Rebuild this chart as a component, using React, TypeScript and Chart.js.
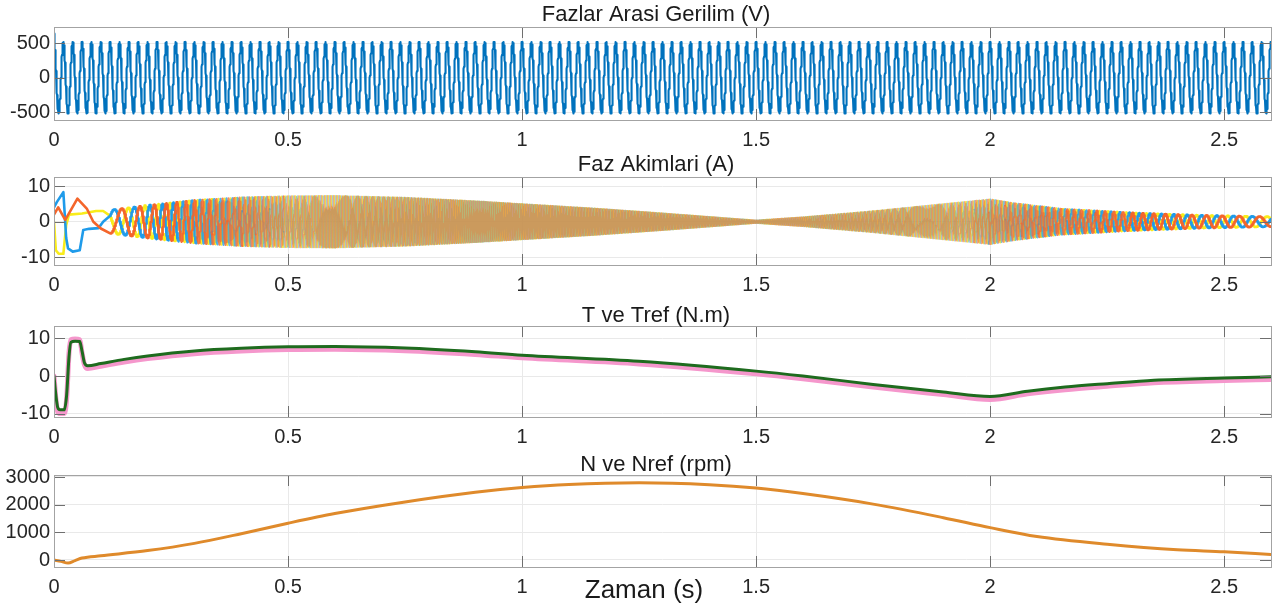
import React, { useEffect, useRef } from "react";
import { Chart, registerables } from "chart.js";

Chart.register(...registerables);

// ---------------- shared x axis ----------------
const X_MAX = 2.6;
const X_TICKS = [0, 0.5, 1, 1.5, 2, 2.5];
const X_LABEL = "Zaman (s)";

// ---------------- panel 1: line-to-line voltage ----------------
const VOLT_TITLE = "Fazlar Arasi Gerilim (V)";
const VOLT_Y_TICKS = [-500, 0, 500];
const VOLT_AMPLITUDE = 520; // V peak
const VOLT_FREQ_HZ = 50; // ~25 cycles per 0.5 s
const VOLT_START = 640; // initial overshoot at t = 0

// ---------------- panel 2: phase currents ----------------
const CUR_TITLE = "Faz Akimlari (A)";
const CUR_Y_TICKS = [-10, 0, 10];
// start-up transient of each phase
const IA_T = [0, 0.009, 0.024, 0.05, 0.07, 0.084, 0.1];
const IA_V = [2, 4, 0.5, 6.5, 3.7, 0, -1.9];
const IB_T = [0, 0.006, 0.02, 0.026, 0.03, 0.04, 0.055, 0.0625, 0.075, 0.095, 0.105];
const IB_V = [4, 5.5, 8.3, -4.5, -7.5, -8.4, -8, -2.3, -2, -1.8, 0];
const IC_T = [0, 0.004, 0.01, 0.02, 0.026, 0.032, 0.06, 0.09, 0.105];
const IC_V = [0, -8, -9, -9, -1, 2, 2.3, 3, 3];
// amplitude envelope of the running currents
const CUR_ENV_T = [0.12, 0.2, 0.3, 0.4, 0.5, 0.6, 0.75, 0.9, 1.0, 1.15, 1.3, 1.4, 1.5, 1.6, 1.75, 1.9, 2.0, 2.05, 2.15, 2.3, 2.45, 2.6];
const CUR_ENV_A = [3.3, 4.6, 6.0, 6.8, 7.2, 7.3, 6.8, 5.8, 5.0, 3.8, 2.4, 1.4, 0.4, 1.3, 3.0, 5.0, 6.3, 5.2, 3.6, 2.5, 1.8, 1.4];
const CUR_RUN_START = 0.12;
const CUR_HZ_PER_RPM = 0.095;

// ---------------- panel 3: torque ----------------
const TQ_TITLE = "T ve Tref (N.m)";
const TQ_Y_TICKS = [-10, 0, 10];
const TQ_T = [0, 0.004, 0.008, 0.013, 0.022, 0.027, 0.032, 0.036, 0.045, 0.055, 0.06, 0.065, 0.072, 0.1, 0.15, 0.2, 0.3, 0.4, 0.5, 0.6, 0.75, 0.9, 1.0, 1.25, 1.5, 1.6, 1.75, 1.9, 2.0, 2.08, 2.16, 2.25, 2.35, 2.5, 2.6];
const T_V = [0, -5, -8.3, -8.9, -8.9, -5, 5, 8.9, 9.2, 9.1, 6.5, 3.5, 2.7, 3.3, 4.4, 5.3, 6.6, 7.3, 7.7, 7.8, 7.4, 6.4, 5.5, 3.9, 1.3, 0, -2.2, -4.2, -5.4, -4.0, -2.9, -2.0, -1.1, -0.5, -0.2];
const TREF_V = [0, -6, -9.4, -9.9, -9.9, -6, 6, 9.6, 9.8, 9.6, 6, 3, 2.0, 2.6, 3.7, 4.6, 5.9, 6.6, 7.0, 7.1, 6.7, 5.7, 4.8, 3.2, 0.6, -0.7, -2.9, -4.9, -6.2, -4.7, -3.6, -2.7, -1.8, -1.2, -0.9];

// ---------------- panel 4: speed ----------------
const SP_TITLE = "N ve Nref (rpm)";
const SP_Y_TICKS = [0, 1000, 2000, 3000];
const SP_T = [0, 0.015, 0.03, 0.045, 0.06, 0.1, 0.2, 0.3, 0.4, 0.5, 0.6, 0.75, 0.9, 1.0, 1.1, 1.25, 1.4, 1.5, 1.6, 1.75, 1.9, 2.0, 2.1, 2.25, 2.4, 2.5, 2.6];
const SP_V = [0, -50, -110, -20, 70, 150, 340, 600, 950, 1330, 1680, 2100, 2450, 2620, 2730, 2790, 2720, 2600, 2400, 2020, 1530, 1170, 850, 570, 370, 300, 200];

// ---------------- helpers ----------------
const lerp = (ts: number[], vs: number[], t: number) => {
  if (t <= ts[0]) return vs[0];
  for (let i = 1; i < ts.length; i++) {
    if (t <= ts[i]) {
      const f = (t - ts[i - 1]) / (ts[i] - ts[i - 1]);
      return vs[i - 1] + f * (vs[i] - vs[i - 1]);
    }
  }
  return vs[vs.length - 1];
};
const pts = (ts: number[], vs: number[]) => ts.map((t, i) => ({ x: t, y: vs[i] }));

function buildVoltage() {
  const out = [{ x: 0, y: VOLT_START }];
  const dt = 0.0002;
  for (let t = dt; t <= X_MAX + 1e-9; t += dt) {
    out.push({ x: t, y: VOLT_AMPLITUDE * Math.cos(2 * Math.PI * VOLT_FREQ_HZ * t) });
  }
  return out;
}

function buildCurrents() {
  const a = pts(IA_T, IA_V);
  const b = pts(IB_T, IB_V);
  const c = pts(IC_T, IC_V);
  const dt = 0.0002;
  let theta = Math.PI;
  for (let t = CUR_RUN_START; t <= X_MAX + 1e-9; t += dt) {
    const A = lerp(CUR_ENV_T, CUR_ENV_A, t);
    a.push({ x: t, y: A * Math.cos(theta) });
    b.push({ x: t, y: A * Math.cos(theta + (2 * Math.PI) / 3) });
    c.push({ x: t, y: A * Math.cos(theta - (2 * Math.PI) / 3) });
    theta += 2 * Math.PI * CUR_HZ_PER_RPM * lerp(SP_T, SP_V, t) * dt;
  }
  return [a, b, c];
}

// stroke weight follows wave density: opaque & thick where slow, blended & thin where dense
const LEVELS = 8;
const densityLevel = (ctx: any) => {
  const rpm = lerp(SP_T, SP_V, ctx.p0.parsed.x);
  const f = Math.min(1, Math.max(0, (rpm - 450) / 900));
  return Math.round(f * LEVELS) / LEVELS;
};
const curWidth = (ctx: any) => 2.6 - 1.1 * densityLevel(ctx);
const curColor = (rgb: string, dense: number) => (ctx: any) => {
  const f = densityLevel(ctx);
  return `rgba(${rgb},${(1 - f * (1 - dense)).toFixed(3)})`;
};

// ---------------- layout ----------------
const W = 1283;
const PLOT_LEFT = 54;
const PLOT_RIGHT = 1271;
const PAD_TOP = 34;
const PAD_BOTTOM = 36;
const FONT = "'Liberation Sans', Arial, Helvetica, sans-serif";

type PanelDef = {
  title: string;
  titleY: number;
  top: number;
  bottom: number;
  yMin: number;
  yMax: number;
  yTicks: number[];
  datasets: any[];
  xLabel?: string;
};

function makePanels(): PanelDef[] {
  const [ia, ib, ic] = buildCurrents();
  return [
    {
      title: VOLT_TITLE, titleY: 15, top: 27, bottom: 120, yMin: -615, yMax: 737, yTicks: VOLT_Y_TICKS,
      datasets: [{ data: buildVoltage(), borderColor: "#0072BD", borderWidth: 2.1 }],
    },
    {
      title: CUR_TITLE, titleY: 165, top: 177, bottom: 265, yMin: -12.15, yMax: 12.55, yTicks: CUR_Y_TICKS,
      datasets: [
        { data: ia, borderColor: "#F4652B", borderWidth: 2, segment: { borderWidth: curWidth, borderColor: curColor("244,101,43", 0.5) } },
        { data: ib, borderColor: "#1F9BEA", borderWidth: 2, segment: { borderWidth: curWidth, borderColor: curColor("31,155,234", 0.4) } },
        { data: ic, borderColor: "#F9EC1A", borderWidth: 2, segment: { borderWidth: curWidth, borderColor: curColor("249,236,26", 0.75) } },
      ],
    },
    {
      title: TQ_TITLE, titleY: 316, top: 326, bottom: 417, yMin: -10.8, yMax: 13.2, yTicks: TQ_Y_TICKS,
      datasets: [
        { data: pts(TQ_T, T_V), borderColor: "#1E6B1E", borderWidth: 3, cubicInterpolationMode: "monotone" },
        { data: pts(TQ_T, TREF_V), borderColor: "#F597CC", borderWidth: 5, cubicInterpolationMode: "monotone" },
      ],
    },
    {
      title: SP_TITLE, titleY: 465, top: 475, bottom: 567, yMin: -253, yMax: 3072, yTicks: SP_Y_TICKS,
      datasets: [{ data: pts(SP_T, SP_V), borderColor: "#DF8A2B", borderWidth: 3, cubicInterpolationMode: "monotone" }],
      xLabel: X_LABEL,
    },
  ];
}

function PanelChart({ p }: { p: PanelDef }) {
  const ref = useRef<HTMLCanvasElement>(null);
  const H = p.bottom - p.top + PAD_TOP + PAD_BOTTOM;
  useEffect(() => {
    const frame = {
      id: "matlabFrame",
      afterDatasetsDraw(chart: any) {
        const { ctx, chartArea: ca, scales } = chart;
        ctx.save();
        // inward tick marks
        ctx.strokeStyle = "#6f6f6f";
        ctx.lineWidth = 1;
        const tl = 11;
        ctx.beginPath();
        X_TICKS.forEach((v) => {
          const x = Math.round(scales.x.getPixelForValue(v)) + 0.5;
          ctx.moveTo(x, ca.top); ctx.lineTo(x, ca.top + tl);
          ctx.moveTo(x, ca.bottom); ctx.lineTo(x, ca.bottom - tl);
        });
        p.yTicks.forEach((v) => {
          const y = Math.round(scales.y.getPixelForValue(v)) + 0.5;
          ctx.moveTo(ca.left, y); ctx.lineTo(ca.left + tl, y);
          ctx.moveTo(ca.right, y); ctx.lineTo(ca.right - tl, y);
        });
        ctx.stroke();
        // box
        ctx.strokeStyle = "#a3a3a3";
        ctx.strokeRect(Math.round(ca.left) + 0.5, Math.round(ca.top) + 0.5, Math.round(ca.right - ca.left), Math.round(ca.bottom - ca.top));
        // title
        ctx.fillStyle = "#1a1a1a";
        ctx.font = `22px ${FONT}`;
        ctx.textAlign = "center";
        ctx.textBaseline = "middle";
        ctx.fillText(p.title, 656, ca.top - (p.top - p.titleY));
        if (p.xLabel) {
          ctx.font = `26px ${FONT}`;
          ctx.fillText(p.xLabel, 644, ca.bottom + 24);
        }
        ctx.restore();
      },
    };
    const chart = new Chart(ref.current!, {
      type: "line",
      data: {
        datasets: p.datasets.map((d) => ({
          pointRadius: 0,
          fill: false,
          tension: 0,
          borderJoinStyle: "round",
          borderCapStyle: "round",
          ...d,
        })),
      },
      options: {
        animation: false,
        responsive: false,
        parsing: false,
        normalized: true,
        events: [],
        layout: { padding: { top: PAD_TOP, bottom: 6, left: 0, right: W - PLOT_RIGHT } },
        plugins: { legend: { display: false }, tooltip: { enabled: false }, title: { display: false } },
        scales: {
          x: {
            type: "linear",
            min: 0,
            max: X_MAX,
            afterBuildTicks: (s: any) => { s.ticks = X_TICKS.map((v) => ({ value: v })); },
            afterFit: (s: any) => { s.height = 30; },
            grid: { color: "#e9e9e9", drawTicks: false },
            border: { display: false },
            ticks: {
              padding: 8,
              maxRotation: 0,
              autoSkip: false,
              color: "#262626",
              font: { size: 20, family: FONT },
              callback: (v: any) => String(v),
            },
          },
          y: {
            type: "linear",
            min: p.yMin,
            max: p.yMax,
            afterBuildTicks: (s: any) => { s.ticks = p.yTicks.map((v) => ({ value: v })); },
            afterFit: (s: any) => { s.width = PLOT_LEFT; },
            grid: { color: "#e9e9e9", drawTicks: false },
            border: { display: false },
            ticks: {
              padding: 4,
              color: "#262626",
              font: { size: 20, family: FONT },
              callback: (v: any) => String(v),
            },
          },
        },
      },
      plugins: [frame],
    } as any);
    return () => chart.destroy();
  }, []);
  return (
    <canvas
      ref={ref}
      width={W}
      height={H}
      style={{ position: "absolute", left: 0, top: p.top - PAD_TOP, width: W, height: H }}
    />
  );
}

export default function App() {
  const panels = React.useMemo(() => makePanels(), []);
  return (
    <div style={{ position: "absolute", left: 0, top: 0, width: W, height: 603, overflow: "hidden", background: "#fff" }}>
      {panels.map((p, i) => (
        <PanelChart key={i} p={p} />
      ))}
    </div>
  );
}
